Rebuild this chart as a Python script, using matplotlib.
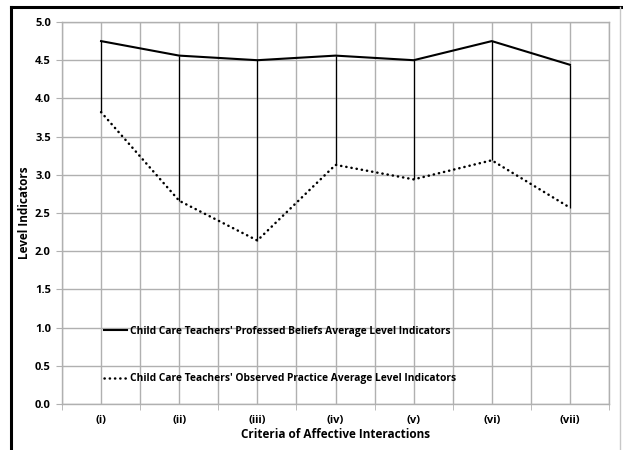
import matplotlib
matplotlib.use('Agg')
import matplotlib.pyplot as plt
from matplotlib.lines import Line2D

# Criteria labels (x axis)
criteria = ['(i)', '(ii)', '(iii)', '(iv)', '(v)', '(vi)', '(vii)']

# Average level indicators
beliefs = [4.75, 4.56, 4.50, 4.56, 4.50, 4.75, 4.44]
practice = [3.82, 2.66, 2.14, 3.13, 2.94, 3.19, 2.57]

beliefs_label = "Child Care Teachers' Professed Beliefs Average Level Indicators"
practice_label = "Child Care Teachers' Observed Practice Average Level Indicators"

plt.rcParams['font.family'] = ['Open Sans', 'DejaVu Sans']
plt.rcParams['font.weight'] = 'bold'

fig = plt.figure(figsize=(6.23, 4.5), dpi=100)
ax = fig.add_axes([62 / 623, 46 / 450, 547 / 623, 382 / 450])

grid_col = '#b0b0b0'
x = list(range(len(criteria)))

# high-low connector lines
ax.vlines(x, practice, beliefs, color='black', lw=0.9, zorder=3)

ax.plot(x, beliefs, color='black', lw=1.5, zorder=4, label=beliefs_label)
ax.plot(x, practice, color='black', lw=1.8, linestyle=(0, (0.1, 2.0)),
        dash_capstyle='round', zorder=4, label=practice_label)

ax.set_xlim(-0.5, len(criteria) - 0.5)
ax.set_ylim(0, 5)
ax.set_yticks([i * 0.5 for i in range(11)])
ax.set_yticklabels([f'{i * 0.5:.1f}' for i in range(11)])
ax.set_xticks(x)
ax.set_xticklabels(criteria)
ax.set_xticks([i - 0.5 for i in range(len(criteria) + 1)], minor=True)

ax.grid(True, which='both', color=grid_col, lw=1.0)
ax.set_axisbelow(True)
for s in ax.spines.values():
    s.set_color(grid_col)
    s.set_linewidth(1.0)

ax.tick_params(axis='x', which='major', length=0, pad=8, labelsize=8)
ax.tick_params(axis='x', which='minor', length=4, color=grid_col)
ax.tick_params(axis='y', length=4, color=grid_col, labelsize=8, pad=4)

ax.set_xlabel('Criteria of Affective Interactions', fontsize=8.5, fontweight='bold', labelpad=1)
ax.set_ylabel('Level Indicators', fontsize=8.5, fontweight='bold', labelpad=3)

ax.legend(loc='lower left', bbox_to_anchor=(0.060, 0.027), frameon=False,
          fontsize=7.4, handlelength=2.2, handletextpad=0.3, labelspacing=3.55)

# outer chart frame (partially cropped)
fig.add_artist(Line2D([10.5 / 623, 10.5 / 623], [0, 1 - 6.5 / 450],
                      transform=fig.transFigure, color='black', lw=2.2))
fig.add_artist(Line2D([10.5 / 623, 1], [1 - 6.5 / 450, 1 - 6.5 / 450],
                      transform=fig.transFigure, color='black', lw=2.2))
fig.add_artist(Line2D([619.5 / 623, 619.5 / 623], [0, 1 - 6.5 / 450],
                      transform=fig.transFigure, color='#c8c8c8', lw=1.0))

fig.savefig('out.png', dpi=100)
